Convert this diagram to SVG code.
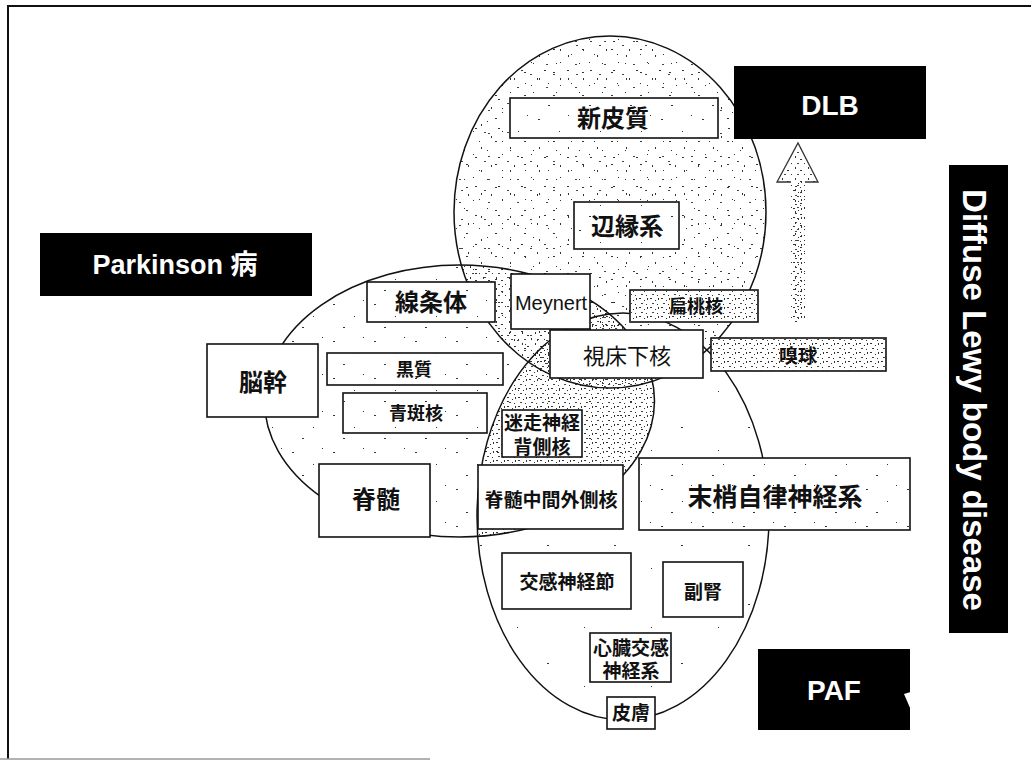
<svg xmlns="http://www.w3.org/2000/svg" width="1031" height="763" viewBox="0 0 1031 763">
<style>
.box{fill:#fff;stroke:#111;stroke-width:1.6}
.dots{fill:url(#pSparse);stroke:none}
.dense{fill:url(#pC);stroke:none}
.ell{fill:none;stroke:#111;stroke-width:1.5}
.blk{fill:#000}
.t{font-family:"Liberation Sans","Noto Sans CJK JP",sans-serif;font-weight:bold;fill:#111;text-anchor:middle;dominant-baseline:central}
.w{font-family:"Liberation Sans","Noto Sans CJK JP",sans-serif;font-weight:bold;fill:#fff;text-anchor:middle}
.r{font-weight:normal}
</style>
<defs>
<pattern id="pA" width="29" height="23" patternUnits="userSpaceOnUse">
<rect x="2" y="3" width="2" height="1" fill="#333"/><rect x="17" y="9" width="1" height="2" fill="#333"/><rect x="24" y="18" width="2" height="1" fill="#444"/><rect x="9" y="16" width="1" height="1" fill="#333"/>
</pattern>
<pattern id="pB" width="23" height="29" patternUnits="userSpaceOnUse">
<rect x="4" y="5" width="1" height="1" fill="#333"/><rect x="15" y="12" width="2" height="1" fill="#333"/><rect x="8" y="20" width="1" height="2" fill="#333"/><rect x="19" y="25" width="1" height="1" fill="#333"/><rect x="1" y="16" width="2" height="1" fill="#444"/>
</pattern>
<pattern id="pC" width="11" height="9" patternUnits="userSpaceOnUse">
<rect x="1" y="1" width="2" height="1" fill="#333"/><rect x="6" y="3" width="1" height="1" fill="#333"/><rect x="3" y="6" width="2" height="1" fill="#444"/><rect x="8" y="7" width="1" height="1" fill="#333"/><rect x="9" y="1" width="1" height="2" fill="#333"/>
</pattern>
<pattern id="pD" width="13" height="11" patternUnits="userSpaceOnUse">
<rect x="2" y="2" width="1" height="2" fill="#333"/><rect x="7" y="5" width="2" height="1" fill="#333"/><rect x="11" y="9" width="1" height="1" fill="#333"/><rect x="4" y="9" width="2" height="1" fill="#444"/>
</pattern>
<pattern id="pSparse" width="41" height="37" patternUnits="userSpaceOnUse">
<rect x="5" y="8" width="2" height="1" fill="#333"/><rect x="26" y="20" width="1" height="1" fill="#333"/><rect x="15" y="31" width="2" height="1" fill="#333"/><rect x="35" y="4" width="1" height="1" fill="#333"/>
</pattern>
<pattern id="pVery" width="67" height="59" patternUnits="userSpaceOnUse">
<rect x="11" y="14" width="2" height="1" fill="#333"/><rect x="48" y="37" width="1" height="1" fill="#333"/>
</pattern>
<clipPath id="clipLeft"><ellipse cx="459.5" cy="401" rx="195" ry="136"/></clipPath>
</defs>

<g id="frame" fill="none" stroke="#111">
<line x1="8" y1="6" x2="1031" y2="6" stroke-width="2"/>
<line x1="8" y1="5" x2="8" y2="759" stroke-width="2"/>
<line x1="0" y1="759" x2="430" y2="759" stroke="#999" stroke-width="1.5"/>
</g>

<g id="regions">
<ellipse cx="623" cy="516.5" rx="146" ry="203.5" fill="#fff"/>
<ellipse cx="623" cy="516.5" rx="146" ry="203.5" fill="url(#pVery)"/>
<ellipse cx="459.5" cy="401" rx="195" ry="136" fill="#fff"/>
<ellipse cx="459.5" cy="401" rx="195" ry="136" fill="url(#pSparse)"/>
<ellipse cx="610" cy="212" rx="156" ry="176" fill="#fff"/>
<ellipse cx="610" cy="212" rx="156" ry="176" fill="url(#pA)"/>
<ellipse cx="610" cy="212" rx="156" ry="176" fill="url(#pB)"/>
<g clip-path="url(#clipLeft)">
<ellipse cx="623" cy="516.5" rx="146" ry="203.5" fill="url(#pC)"/>
<ellipse cx="610" cy="212" rx="156" ry="176" fill="url(#pD)"/>
</g>
<ellipse class="ell" cx="623" cy="516.5" rx="146" ry="203.5"/>
<ellipse class="ell" cx="459.5" cy="401" rx="195" ry="136"/>
<ellipse class="ell" cx="610" cy="212" rx="156" ry="176"/>
</g>

<g id="connectors">
<path d="M791 182 L805 182 L805 322 L791 322 Z" fill="url(#pC)"/>
<path d="M791 182 L805 182 L805 322 L791 322 Z" fill="url(#pD)"/>
<path d="M798 143 L818 182 L777 182 Z" fill="#fff"/>
<path d="M798 143 L818 182 L777 182 Z" fill="url(#pD)"/>
<path d="M791 182 L777 182 L798 143 L818 182 L805 182" fill="none" stroke="#333" stroke-width="1.3"/>
</g>

<g id="parkinson"><rect class="blk" x="40" y="233" width="272" height="63"/><text class="w" x="175" y="274" font-size="27">Parkinson 病</text></g>
<g id="dlb"><rect class="blk" x="734" y="66" width="192" height="73"/><text class="w" x="830" y="115" font-size="28">DLB</text></g>
<g id="paf"><rect class="blk" x="758" y="649" width="152" height="81"/><polygon points="910.5,692 904,694 910.5,709" fill="#fff"/><text class="w" x="834" y="700" font-size="28">PAF</text></g>
<g id="dlbd"><rect class="blk" x="949" y="165" width="59" height="468"/><text class="w" transform="translate(963,400) rotate(90)" x="0" y="0" font-size="33">Diffuse Lewy body disease</text></g>

<g id="shinhishitsu"><rect class="box" x="510" y="98" width="208" height="40"/><rect class="dots" x="510" y="98" width="208" height="40"/><text class="t" x="613" y="118" font-size="24">新皮質</text></g>
<g id="henenkei"><rect class="box" x="574" y="202" width="105" height="47"/><rect class="dots" x="574" y="202" width="105" height="47"/><text class="t" x="627" y="226" font-size="24">辺縁系</text></g>
<g id="senjotai"><rect class="box" x="367" y="282" width="128" height="40"/><rect class="dots" x="367" y="282" width="128" height="40"/><text class="t" x="431" y="302" font-size="24">線条体</text></g>
<g id="meynert"><rect class="box" x="511" y="274" width="79" height="55"/><text class="t r" x="551" y="303" font-size="20">Meynert</text></g>
<g id="hentokaku"><rect class="box" x="630" y="290" width="128" height="32"/><rect class="dense" x="630" y="290" width="128" height="32"/><text class="t" x="696" y="307" font-size="18">扁桃核</text></g>
<g id="shishokaku"><rect class="box" x="550" y="330" width="153" height="48"/><text class="t r" x="627" y="356" font-size="22">視床下核</text></g>
<g id="kyukyu"><rect class="box" x="711" y="338" width="175" height="33"/><rect class="dense" x="711" y="338" width="175" height="33"/><text class="t" x="798" y="356" font-size="19">嗅球</text></g>
<g id="nokan"><rect class="box" x="207" y="344" width="111" height="73"/><text class="t" x="263" y="382" font-size="24">脳幹</text></g>
<g id="kokushitsu"><rect class="box" x="327" y="353" width="176" height="32"/><rect class="dots" x="327" y="353" width="176" height="32"/><text class="t" x="414" y="370" font-size="18">黒質</text></g>
<g id="seihankaku"><rect class="box" x="343" y="393" width="144" height="40"/><rect class="dots" x="343" y="393" width="144" height="40"/><text class="t" x="416" y="414" font-size="18">青斑核</text></g>
<g id="meiso"><rect class="box" x="502" y="410" width="80" height="47"/><text class="t" x="542" y="423" font-size="19">迷走神経</text><text class="t" x="542" y="447" font-size="19">背側核</text></g>
<g id="sekizui"><rect class="box" x="319" y="464" width="111" height="73"/><text class="t" x="376" y="499" font-size="24">脊髄</text></g>
<g id="chukan"><rect class="box" x="478" y="465" width="145" height="64"/><text class="t" x="551" y="500" font-size="19">脊髄中間外側核</text></g>
<g id="mashou"><rect class="box" x="639" y="458" width="271" height="72"/><rect class="dots" x="639" y="458" width="271" height="72"/><text class="t" x="775" y="497" font-size="25">末梢自律神経系</text></g>
<g id="kokan"><rect class="box" x="502" y="553" width="129" height="56"/><text class="t" x="567" y="582" font-size="19">交感神経節</text></g>
<g id="fukujin"><rect class="box" x="663" y="562" width="80" height="55"/><text class="t" x="703" y="592" font-size="19">副腎</text></g>
<g id="shinzo"><rect class="box" x="590" y="633" width="81" height="49"/><text class="t" x="631" y="648" font-size="19">心臓交感</text><text class="t" x="631" y="671" font-size="19">神経系</text></g>
<g id="hifu"><rect class="box" x="607" y="697" width="48" height="32"/><text class="t" x="631" y="713" font-size="19">皮膚</text></g>
</svg>
